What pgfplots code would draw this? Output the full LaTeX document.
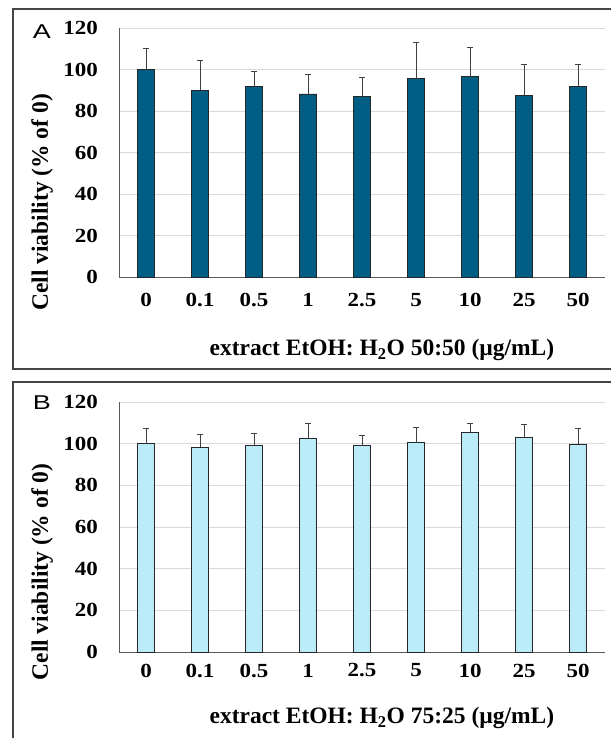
\documentclass[border=0pt]{standalone}
\usepackage{fontspec}
\setmainfont{Liberation Serif}
\newfontfamily\tickfont[FakeStretch=1.15]{Liberation Serif}
\newfontfamily\panelfont[FakeStretch=1.35]{Liberation Sans}
\usepackage{pgfplots}
\pgfplotsset{compat=1.18}
\usepackage{pgfplotstable}

\definecolor{darkbar}{RGB}{0,94,132}
\definecolor{lightbar}{RGB}{186,235,248}
\definecolor{gridgray}{RGB}{217,217,217}
\definecolor{axgray}{RGB}{89,89,89}
\definecolor{framegray}{RGB}{70,70,70}
\definecolor{errgray}{RGB}{64,64,64}

\pgfplotstableread{
x y e
0 100.0 10.2
1 90.2 14.3
2 91.9 7.3
3 88.3 9.4
4 87.2 8.9
5 95.6 17.4
6 96.6 14.3
7 87.6 15.0
8 91.9 10.7
}\dataA

\pgfplotstableread{
x y e
0 100.0 7.1
1 98.4 6.2
2 99.1 6.0
3 102.5 7.1
4 99.1 5.0
5 100.5 7.2
6 105.2 4.4
7 103.2 6.0
8 99.7 7.4
}\dataB

\pgfplotsset{
  panel/.style={
    scale only axis, width=486pt,
    xmin=-0.5, xmax=8.5, ymin=0, ymax=120,
    ytick={0,20,...,120},
    xtick={0,...,8},
    xticklabels={0,0.1,0.5,1,2.5,5,10,25,50},
    /pgf/number format/assume math mode=true,
    axis x line*=bottom, axis y line*=left,
    axis line style={-, axgray, line width=1pt},
    ymajorgrids, grid style={gridgray, line width=1pt},
    major tick length=0pt,
    tick label style={font=\tickfont\bfseries\fontsize{20}{24}\selectfont},
    yticklabel style={anchor=east, inner sep=0pt, xshift=-21pt},
    xticklabel style={anchor=center, inner sep=0pt},
    label style={font=\bfseries\fontsize{23.5}{28}\selectfont},
    ylabel={Cell viability (\% of 0)},
    bar width=0.315,
    error bars/y dir=plus, error bars/y explicit,
    error bars/error mark=-,
    error bars/error bar style={errgray, line width=1pt},
    error bars/error mark options={rotate=90, errgray, line width=1pt, mark size=3pt},
  }
}

\begin{document}
\begin{tikzpicture}
\useasboundingbox (0,0) rectangle (611pt,-738pt);

\begin{axis}[panel,
  at={(119pt,-277pt)}, anchor=south west, height=248.7pt,
  xticklabel style={yshift=-23pt},
  xlabel={extract EtOH: H\textsubscript{2}O 50:50 (µg/mL)},
  xlabel style={at={(axis description cs:0.541,-0.2935)}, anchor=center},
  ylabel style={at={(axis description cs:-0.158,0.30)}, anchor=center},
]
\addplot[ybar, fill=darkbar, draw=black!85, line width=0.9pt] table[x=x, y=y, y error=e] {\dataA};
\end{axis}

\begin{axis}[panel,
  at={(119pt,-652pt)}, anchor=south west, height=250pt,
  xticklabel style={yshift=-18.5pt},
  xlabel={extract EtOH: H\textsubscript{2}O 75:25 (µg/mL)},
  xlabel style={at={(axis description cs:0.541,-0.264)}, anchor=center},
  ylabel style={at={(axis description cs:-0.158,0.32)}, anchor=center},
]
\addplot[ybar, fill=lightbar, draw=black!85, line width=0.9pt] table[x=x, y=y, y error=e] {\dataB};
\end{axis}

\draw[framegray, line width=1.5pt] (611pt,-9pt) -- (13pt,-9pt) -- (13pt,-369pt) -- (611pt,-369pt);
\draw[framegray, line width=1.5pt] (611pt,-382pt) -- (13pt,-382pt) -- (13pt,-738pt);
\node[font=\panelfont\fontsize{20}{22}\selectfont] at (42pt,-32pt) {A};
\node[font=\panelfont\fontsize{20}{22}\selectfont] at (42pt,-403pt) {B};
\end{tikzpicture}
\end{document}
